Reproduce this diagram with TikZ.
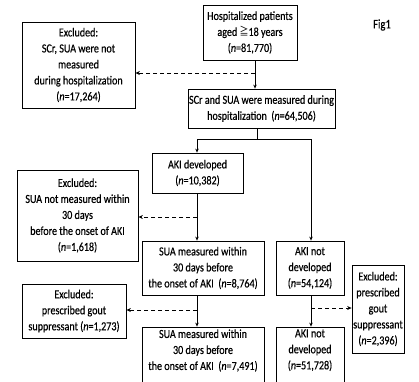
\documentclass[tikz,border=0pt]{standalone}
\usepackage{fontspec}
\setmainfont{Carlito}[FakeStretch=0.82,FakeBold=0.4]
\newfontfamily\cjkf{Noto Sans CJK SC}[FakeStretch=0.82]
\usetikzlibrary{arrows.meta,calc}
\begin{document}
\begin{tikzpicture}[x=1pt,y=-1pt,
  box/.style={draw,line width=0.8pt,align=center,inner sep=1pt,font=\fontsize{12.3}{16}\selectfont},
  link/.style={line width=0.8pt,-{Stealth[length=4pt,width=3.5pt]}},
  dlink/.style={line width=0.8pt,dash pattern=on 4pt off 3pt,-{Stealth[length=4.5pt,width=4pt]}},
  plain/.style={line width=0.8pt}]
\useasboundingbox[fill=white] (0,0) rectangle (419,381);
% boxes: left, top, right, bottom
\node[box,minimum width=94pt,minimum height=55pt] (A) at (250,32.5) {Hospitalized patients\\aged {\cjkf\fontsize{11}{16}\selectfont ≧}18 years\\(\textit{n}=81,770)};
\node[box,minimum width=113pt,minimum height=86pt] (X1) at (78.5,65) {Excluded:\\SCr, SUA were not\\measured\\during hospitalization\\(\textit{n}=17,264)};
\node[box,minimum width=147pt,minimum height=39pt] (B) at (261.5,108.5) {SCr and SUA were measured during\\hospitalization \ (\textit{n}=64,506)};
\node[box,minimum width=91pt,minimum height=40pt] (C) at (197.5,173) {AKI developed\\(\textit{n}=10,382)};
\node[box,minimum width=121pt,minimum height=91pt] (X2) at (77.5,215.5) {Excluded:\\SUA not measured within\\30 days\\before the onset of AKI\\(\textit{n}=1,618)};
\node[box,minimum width=122pt,minimum height=54pt] (D) at (203,268) {SUA measured within\\30 days before\\the onset of AKI \ (\textit{n}=8,764)};
\node[box,minimum width=104pt,minimum height=54pt] (X3) at (74,311) {Excluded:\\prescribed gout\\suppressant (\textit{n}=1,273)};
\node[box,minimum width=122pt,minimum height=64pt] (E) at (203,359) {};
\node[box,draw=none,anchor=north] (Et) at (203,328) {SUA measured within\\30 days before\\the onset of AKI \ (\textit{n}=7,491)};
\node[box,minimum width=68pt,minimum height=54pt] (F) at (310,268) {AKI not\\developed\\(\textit{n}=54,124)};
\node[box,minimum width=52pt,minimum height=88pt] (X4) at (378,309) {Excluded:\\prescribed\\gout\\suppressant\\(\textit{n}=2,396)};
\node[box,minimum width=68pt,minimum height=64pt] (G) at (310,359) {};
\node[box,draw=none,anchor=north] (Gt) at (310,328) {AKI not\\developed\\(\textit{n}=51,728)};
\node[font=\fontsize{13}{15}\selectfont] (fig) at (382,25) {Fig1};
% connectors
\coordinate (a1) at (255,60);
\coordinate (j1) at (255,73);
\draw[link] (a1) -- (a1 |- B.north);
\draw[dlink] (j1) -- (X1.east |- j1);
\coordinate (b1) at (257,128);
\coordinate (s0) at (257,139);
\coordinate (sl) at (197,139);
\coordinate (sr) at (311,139);
\draw[plain] (b1) -- (s0);
\draw[plain] (sl) -- (sr);
\draw[link] (sl) -- (sl |- C.north);
\draw[link] (sr) -- (sr |- F.north);
\coordinate (c1) at (197,193);
\coordinate (j2) at (197,217);
\draw[link] (c1) -- (c1 |- D.north);
\draw[dlink] (j2) -- (X2.east |- j2);
\coordinate (d1) at (197,295);
\coordinate (j3) at (197,310);
\draw[link] (d1) -- (d1 |- E.north);
\draw[dlink] (j3) -- (X3.east |- j3);
\coordinate (f1) at (311,295);
\coordinate (j4) at (311,308);
\draw[link] (f1) -- (f1 |- G.north);
\draw[dlink] (j4) -- (X4.west |- j4);
\end{tikzpicture}
\end{document}
